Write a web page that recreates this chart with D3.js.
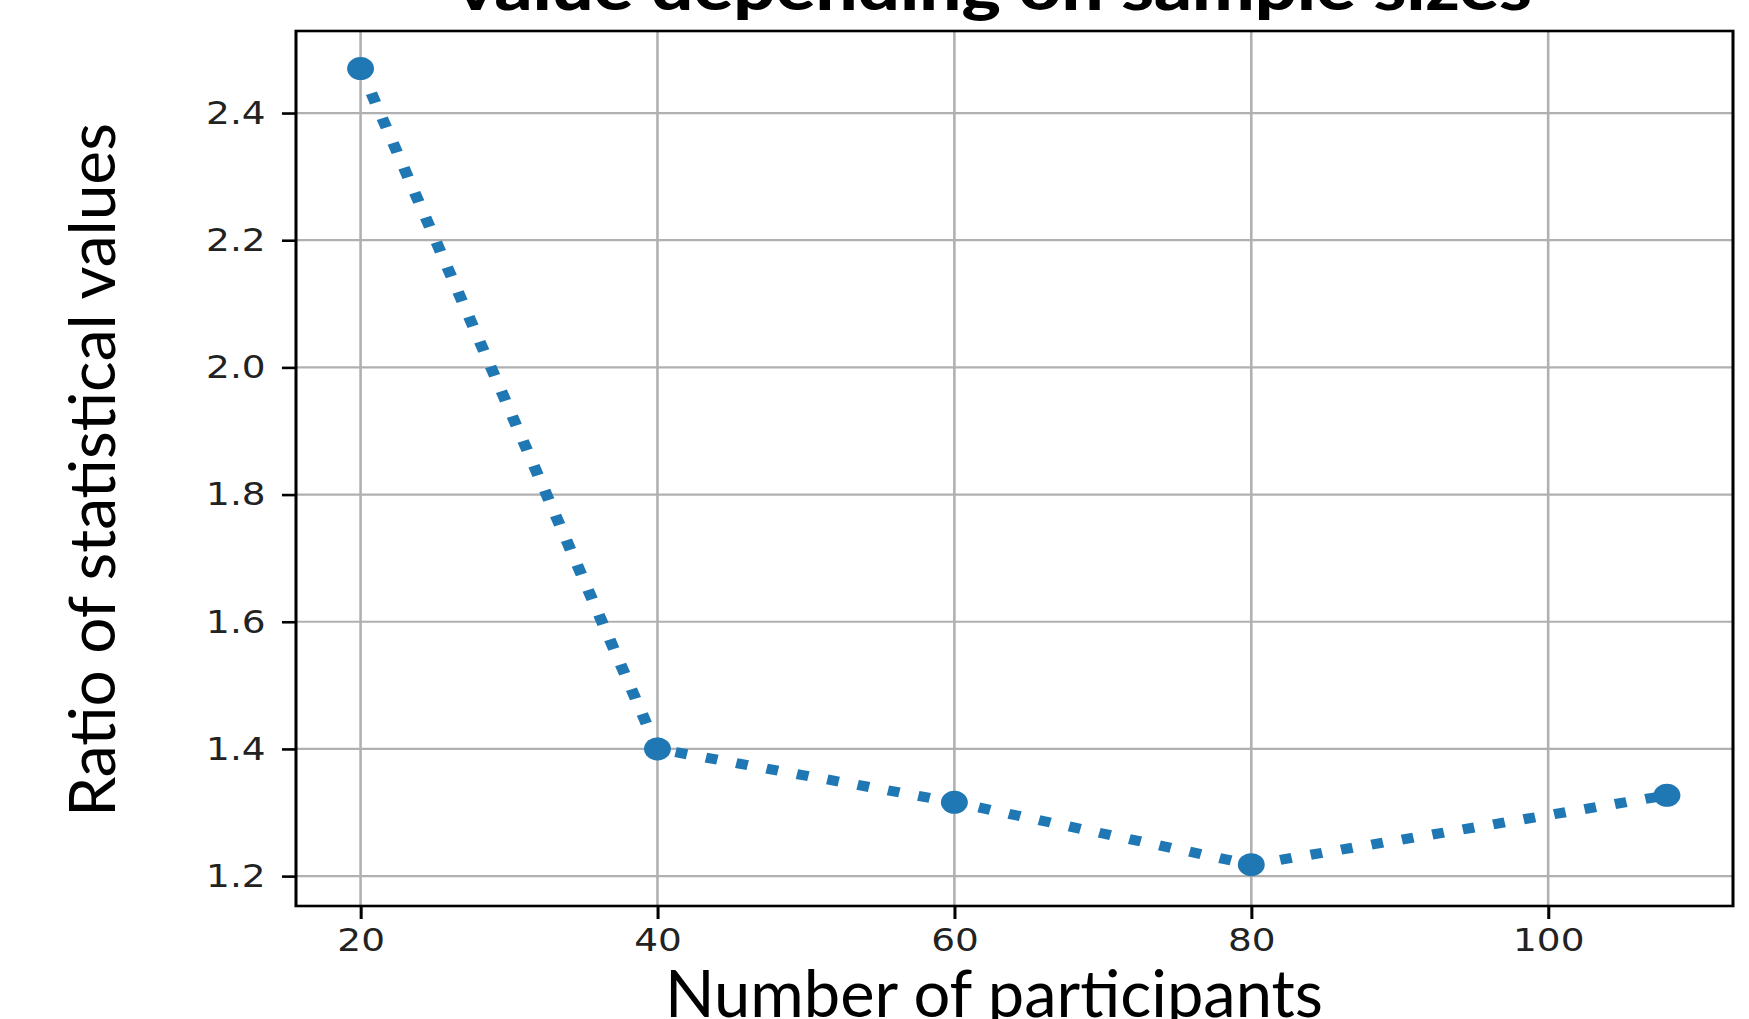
<!DOCTYPE html>
<html>
  <head>
    <meta charset="UTF-8">
    <title>Ratio of statistical values</title>
    <script src="https://d3js.org/d3.v7.min.js"></script>
    <style>
      body { margin: 0; background: #fff; }
    </style>
  </head>
  <body>
    <svg width="1749" height="1019"></svg>
    <script>
      // Data
      var participants = [20, 40, 60, 80, 108];
      var ratios = [2.47, 1.40, 1.316, 1.218, 1.327];
      var xTicks = [20, 40, 60, 80, 100];
      var yTicks = [1.2, 1.4, 1.6, 1.8, 2.0, 2.2, 2.4];

      var svg = d3.select("svg");
      svg.append("rect").attr("width", 1749).attr("height", 1019).attr("fill", "#fff");

      // the plot image is stretched sideways a bit
      var sx = 1.17;
      var pLeft = 296, pRight = 1733, pTop = 31, pBottom = 906;

      var x = d3.scaleLinear()
          .domain([15.65, 112.45])
          .range([pLeft / sx, pRight / sx]);
      var y = d3.scaleLinear()
          .domain([1.153, 2.529])
          .range([pBottom, pTop]);

      var g = svg.append("g").attr("transform", "scale(" + sx + ",1)");

      // Grid
      g.selectAll(".vgrid")
        .data(xTicks)
        .enter().append("line")
          .attr("x1", function(d) { return x(d); })
          .attr("x2", function(d) { return x(d); })
          .attr("y1", pTop).attr("y2", pBottom)
          .attr("stroke", "#b0b0b0")
          .attr("stroke-width", 2.2);
      g.selectAll(".hgrid")
        .data(yTicks)
        .enter().append("line")
          .attr("x1", pLeft / sx).attr("x2", pRight / sx)
          .attr("y1", function(d) { return y(d); })
          .attr("y2", function(d) { return y(d); })
          .attr("stroke", "#b0b0b0")
          .attr("stroke-width", 2.2);

      // Axes
      var xAxis = d3.axisBottom(x)
          .tickValues(xTicks)
          .tickSize(13)
          .tickPadding(9)
          .tickFormat(d3.format("d"));
      var yAxis = d3.axisLeft(y)
          .tickValues(yTicks)
          .tickSize(12)
          .tickPadding(14)
          .tickFormat(d3.format(".1f"));

      var gx = g.append("g")
          .attr("transform", "translate(0," + pBottom + ")")
          .call(xAxis);
      var gy = g.append("g")
          .attr("transform", "translate(" + (pLeft / sx) + ",0)")
          .call(yAxis);

      [gx, gy].forEach(function(a) {
        a.select(".domain").remove();
        a.selectAll(".tick line").attr("stroke", "#000").attr("stroke-width", 2.6);
        a.selectAll(".tick text")
          .attr("fill", "#222")
          .style("font-family", "DejaVu Sans")
          .style("font-size", "32px");
      });

      // Line
      var line = d3.line()
          .x(function(d, i) { return x(participants[i]); })
          .y(function(d) { return y(d); });

      g.append("path")
          .datum(ratios)
          .attr("fill", "none")
          .attr("stroke", "#1f77b4")
          .attr("stroke-width", 10)
          .attr("stroke-dasharray", "10,16.5")
          .attr("d", line);

      // Markers
      g.selectAll(".dot")
        .data(ratios)
        .enter().append("circle")
          .attr("cx", function(d, i) { return x(participants[i]); })
          .attr("cy", function(d) { return y(d); })
          .attr("r", 11.5)
          .attr("fill", "#1f77b4");

      // Frame
      g.append("rect")
          .attr("x", pLeft / sx).attr("y", pTop)
          .attr("width", (pRight - pLeft) / sx).attr("height", pBottom - pTop)
          .attr("fill", "none")
          .attr("stroke", "#000")
          .attr("stroke-width", 2.6);

      // Title and labels
      svg.append("text")
          .attr("x", 994).attr("y", 10)
          .attr("text-anchor", "middle")
          .attr("textLength", 1076)
          .attr("lengthAdjust", "spacingAndGlyphs")
          .style("font-family", "Lato")
          .style("font-weight", 900)
          .style("font-size", "62px")
          .text("value depending on sample sizes");

      svg.append("text")
          .attr("x", 994).attr("y", 1017)
          .attr("text-anchor", "middle")
          .style("font-family", "Lato")
          .style("font-size", "65px")
          .text("Number of participants");

      svg.append("text")
          .attr("transform", "translate(115,470) rotate(-90)")
          .attr("text-anchor", "middle")
          .style("font-family", "Lato")
          .style("font-size", "64px")
          .text("Ratio of statistical values");
    </script>
  </body>
</html>
